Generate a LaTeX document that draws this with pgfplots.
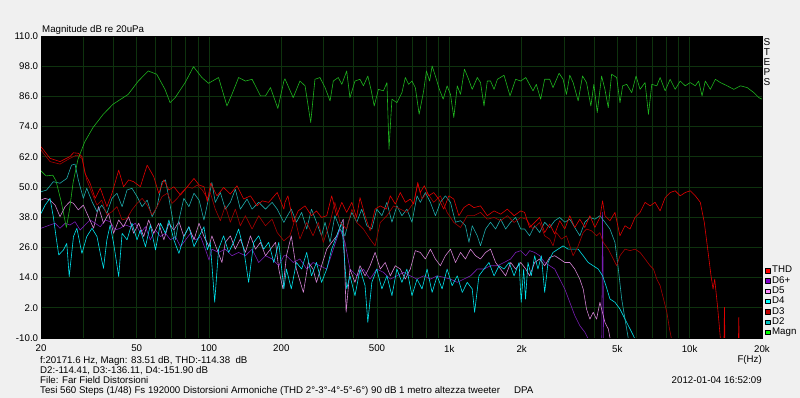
\documentclass[border=0pt]{standalone}
\usepackage{fontspec}
\setmainfont{Liberation Sans}
\usepackage{pgfplots}
\pgfplotsset{compat=1.18}
\definecolor{bg}{RGB}{240,240,240}
\definecolor{gridc}{RGB}{14,50,14}
\definecolor{cMagn}{RGB}{30,180,30}
\definecolor{cTHD}{RGB}{225,0,0}
\definecolor{cDthree}{RGB}{165,0,0}
\definecolor{cDtwo}{RGB}{30,170,170}
\definecolor{cDfour}{RGB}{0,225,235}
\definecolor{cDfive}{RGB}{210,130,210}
\definecolor{cDsix}{RGB}{120,30,180}
\definecolor{lTHD}{RGB}{255,0,0}
\definecolor{lDsix}{RGB}{128,0,200}
\definecolor{lDfive}{RGB}{255,140,255}
\definecolor{lDfour}{RGB}{0,255,255}
\definecolor{lDthree}{RGB}{192,0,0}
\definecolor{lDtwo}{RGB}{0,192,192}
\definecolor{lMagn}{RGB}{0,255,0}
\begin{document}
\begin{tikzpicture}[font=\fontsize{9.7}{11}\selectfont]
\fill[bg] (0,0) rectangle (800pt,398pt);
\useasboundingbox (0,0) rectangle (800pt,398pt);
\begin{axis}[
  at={(41pt,60pt)}, anchor=south west, scale only axis,
  width=721pt, height=302pt,
  xmode=log, xmin=20, xmax=20000, ymin=-10, ymax=110,
  axis background/.style={fill=black},
  axis line style={draw=black},
  xtick={20,50,100,200,500,1000,2000,5000,10000,20000},
  xticklabels={20,50,100,200,500,1k,2k,5k,10k,20k},
  minor xtick={30,40,60,70,80,90,300,400,600,700,800,900,3000,4000,6000,7000,8000,9000},
  ytick={-10,2,14,26,38,50,62,74,86,98,110},
  yticklabels={-10.0,2.0,14.0,26.0,38.0,50.0,62.0,74.0,86.0,98.0,110.0},
  major tick length=0pt, minor tick length=0pt,
  xmajorgrids, xminorgrids, ymajorgrids,
  major grid style={draw=gridc, line width=0.7pt},
  minor grid style={draw=gridc, line width=0.7pt},
  /pgf/number format/assume math mode=true,
  tick label style={font=\fontsize{9.7}{11}\selectfont, inner sep=0pt},
  xticklabel style={anchor=north, yshift=-7pt},
  yticklabel style={anchor=east, xshift=-2.7pt},
  every axis plot/.append style={line width=0.6pt, line join=round},
  legend image code/.code={\fill[#1] (0pt,-2.2pt) rectangle (4.5pt,2.2pt);},
  legend cell align=left,
  legend style={at={(axis description cs:1.0042,0.2399)}, anchor=north west,
    draw=none, fill=none, inner sep=0pt, outer sep=0pt, row sep=0pt, column sep=2pt,
    font=\fontsize{9.7}{11}\selectfont,
    nodes={inner sep=0pt, text height=7.3pt, text depth=3pt}},
]
\addlegendimage{fill=lTHD}\addlegendentry{THD}
\addlegendimage{fill=lDsix}\addlegendentry{D6+}
\addlegendimage{fill=lDfive}\addlegendentry{D5}
\addlegendimage{fill=lDfour}\addlegendentry{D4}
\addlegendimage{fill=lDthree}\addlegendentry{D3}
\addlegendimage{fill=lDtwo}\addlegendentry{D2}
\addlegendimage{fill=lMagn}\addlegendentry{Magn}

% D6+
\addplot[cDsix, forget plot] coordinates {(20,33.6)(20.8,34.2)(21.8,34.9)(22.9,35.6)(24.0,33.6)(25.2,35.6)(26.4,34.9)(27.7,36.2)(29.1,32.9)(30.5,34.9)(32.0,36.9)(33.6,35.6)(35.3,34.2)(37.0,36.9)(38.8,36.2)(40.7,32.9)(42.7,33.6)(44.9,34.9)(47.1,34.2)(49.4,35.6)(51.8,31.6)(54.4,34.2)(57.0,29)(59.9,32.9)(62.8,30.3)(65.9,31.6)(69.1,29)(72.5,30.3)(76.1,26.3)(79.9,29)(83.8,31.6)(87.9,29)(92.3,30.3)(96.8,25)(100.0,21)(102.8,25.3)(109.6,24)(116.9,25.3)(124.6,22.7)(132.8,24)(141.7,22.7)(151.1,25.3)(161.0,20)(171.8,22.7)(183.1,21.4)(195.2,18.7)(204.9,22.7)(210,22.7)(224,20)(239,21.4)(255,17.4)(271,20)(289,18.7)(309,17.4)(329,25.3)(351,33.3)(368,28)(386,17.4)(412,14.7)(439,17.4)(468,13.4)(499,17.4)(532,16.1)(568,13.4)(605,14.7)(645,16.1)(688,14.7)(734,13.4)(782,14.7)(834,13.4)(890,14.7)(948,14.1)(1011,13.4)(1079,12.1)(1149,13.4)(1225,14.7)(1307,17.4)(1394,17.4)(1484,18.7)(1585,18.7)(1689,20)(1800,21.4)(1888,24)(1982,24.7)(2080,22.7)(2158,24.7)(2265,24)(2376,22.7)(2493,20)(2616,18.7)(2745,17.4)(2880,13.4)(3022,9.5)(3171,4.2)(3327,-1.1)(3491,-5.1)(3663,-7.7)(3783,-10.4)(3871,-20)(4302,-20)(4341,40)(4395,-20)};

% D5
\addplot[cDfive, forget plot] coordinates {(20,44.8)(20.8,45.5)(21.8,44.8)(22.9,42.8)(24.0,38.2)(25.2,42.2)(26.4,44.2)(27.3,43.5)(28.6,40.9)(30.0,42.8)(31.5,38.2)(33.1,33.6)(34.7,42.2)(36.4,35.6)(38.2,39.5)(40.1,31.6)(42.1,36.9)(44.1,34.2)(46.3,38.2)(48.6,31.6)(51.0,35.6)(53.5,30.3)(56.1,36.9)(58.9,31.6)(61.8,35.6)(64.9,29)(68.1,35.6)(71.4,32.9)(75.0,36.2)(78.6,30.3)(82.5,34.2)(86.6,29)(90.9,35.6)(95.3,30.3)(100.0,26.3)(102.8,30.6)(107.9,25.3)(113.2,20)(116.9,28)(122.7,30.6)(128.7,25.3)(135.0,29.3)(141.7,24)(148.7,30.6)(156.1,25.3)(163.7,28)(171.8,22.7)(180.2,25.3)(189.2,28)(195.2,17.4)(203,9.5)(210,22.7)(220,30.6)(231,17.4)(247,8.1)(259,20)(271,17.4)(280,12.1)(294,18.7)(309,25.3)(324,28)(340,30.6)(357,35.9)(362,37.2)(372,0.2)(386,17.4)(405,12.1)(425,18.7)(446,14.7)(468,18.7)(491,24)(516,17.4)(541,20)(568,14.7)(596,18.7)(625,17.4)(656,13.4)(688,17.4)(722,24.7)(757,24)(795,21.4)(834,25.3)(875,21.4)(918,18.7)(963,22.7)(1011,25.3)(1061,20)(1113,24)(1167,21.4)(1225,25.3)(1285,22.7)(1348,21.4)(1415,24)(1484,25.3)(1558,20)(1635,17.4)(1715,14.7)(1800,20)(1888,17.4)(1982,20)(2080,17.4)(2158,14.7)(2265,20)(2376,21.4)(2493,18.7)(2616,22)(2745,22.7)(2880,21.4)(3022,20)(3171,20)(3327,17.4)(3491,13.4)(3605,9.5)(3723,1.5)(3844,-2.5)(3969,0.2)(4099,-2.5)(4232,4.2)(4440,-3.8)(4585,-6.4)(4684,-11)(4784,-20)};

% D4
\addplot[cDfour, forget plot] coordinates {(20,39.5)(20.8,42.8)(21.8,45.5)(22.5,38.2)(23.2,29)(23.7,23)(24.8,25)(25.6,27.6)(26.2,14.4)(27.3,30.3)(28.2,33.6)(29.6,23.6)(31.0,30.3)(32.6,33.6)(34.2,30.3)(35.3,23.6)(36.4,17.7)(37.6,29)(38.8,34.9)(40.1,27.6)(42.1,14.4)(43.5,31.6)(45.6,29)(47.8,35.6)(50.2,29)(51.8,32.9)(54.4,26.3)(57.0,34.9)(59.9,25)(62.8,35.6)(65.9,31.6)(68.1,36.9)(71.4,29)(75.0,23.6)(78.6,30.3)(82.5,34.2)(86.6,26.3)(90.9,30.3)(95.3,34.2)(98.4,25)(101.2,28)(105.6,4.2)(109.6,25.3)(115.0,30.6)(120.7,24)(126.6,28)(132.8,33.3)(139.4,25.3)(146.2,12.1)(153.5,28)(161.0,30.6)(168.9,25.3)(177.2,28)(186.0,20)(195.2,28)(204.9,9.5)(210,17.4)(220,9.5)(231,20)(243,17.4)(255,24)(267,14.7)(280,20)(294,12.1)(309,17.4)(324,25.3)(340,30.6)(357,35.9)(374,9.5)(386,14.7)(405,6.8)(425,17.4)(446,10.8)(458,-3.8)(476,12.1)(499,17.4)(524,9.5)(550,14.7)(577,6.8)(605,17.4)(635,12.1)(666,17.4)(699,6.8)(734,13.4)(770,9.5)(808,17.4)(848,8.1)(890,14.7)(933,9.5)(979,17.4)(1027,10.8)(1079,14.7)(1132,8.1)(1187,12.1)(1245,9.5)(1274,0.2)(1328,14.7)(1394,17.4)(1462,20)(1535,14.7)(1610,18.7)(1689,17.4)(1773,20)(1860,14.7)(1951,20)(1991,4.2)(2038,17.4)(2075,5.5)(2124,20)(2193,14.7)(2265,22.7)(2338,17.4)(2415,22.7)(2493,8.1)(2574,20)(2701,24)(2834,25.3)(2974,26.6)(3120,25.3)(3274,25.3)(3436,25.3)(3605,22.7)(3783,20)(3969,18.7)(4165,17.4)(4341,14.7)(4484,10.8)(4659,5.5)(4888,4.2)(5129,1.5)(5382,-2.5)(5647,-6.4)(5925,-10.4)(6023,-20)};

% D2
\addplot[cDtwo, forget plot] coordinates {(20,48.1)(21.1,48.8)(22.5,52.1)(24.0,51.5)(25.6,53.4)(26.8,58.7)(27.7,59.1)(28.6,52.8)(30.0,45.5)(31.0,49.5)(32.6,44.2)(34.2,40.2)(35.8,42.8)(37.6,39.5)(39.5,45.5)(41.4,47.5)(43.5,42.2)(45.6,48.8)(47.8,49.5)(50.2,46.2)(52.7,42.2)(55.3,44.8)(58.0,38.2)(60.8,42.2)(63.8,52.1)(65.9,52.8)(68.1,45.5)(70.3,38.2)(72.5,29)(75.0,36.9)(78.6,45.5)(82.5,42.2)(86.6,47.5)(90.9,44.8)(95.3,36.9)(100.0,46.2)(102.8,51.8)(106.2,43.9)(111.5,47.8)(116.9,41.2)(122.7,43.9)(128.7,49.1)(135.0,41.2)(144.0,45.2)(151.1,41.2)(161.0,43.9)(171.8,41.2)(183.1,43.9)(192.2,41.2)(204.9,35.9)(210,37.9)(220,41.2)(231,36)(243,39.9)(255,33.3)(267,41.2)(280,36)(294,30.6)(304,36)(319,28)(334,38.6)(351,33.3)(368,30.6)(380,36)(393,39.9)(412,36)(432,41.2)(454,34.6)(476,33.3)(499,41.2)(524,38.6)(550,43.9)(577,36)(605,42.5)(635,38.6)(666,41.2)(699,36)(734,46.5)(757,43.9)(795,47.8)(834,43.9)(875,38.6)(918,43.9)(963,46.5)(1011,43.9)(1061,36)(1113,36.6)(1167,34.6)(1207,28)(1245,34.6)(1307,30.6)(1348,26.7)(1415,33.3)(1484,36)(1558,33.3)(1635,37.2)(1715,33.3)(1800,36)(1888,37.9)(1982,33.3)(2057,33.3)(2158,30.6)(2265,34.6)(2376,31.9)(2493,36)(2616,33.9)(2745,36.6)(2880,37.9)(3022,36)(3171,37.2)(3327,33.9)(3491,30.6)(3663,36)(3844,37.9)(4033,37.2)(4232,38.6)(4440,36)(4659,33.3)(4888,28)(5049,17.4)(5214,5.5)(5382,-2.5)(5559,-10.4)(5647,-20)};

% D3
\addplot[cDthree, forget plot] coordinates {(20,64.7)(21.8,60.1)(24.0,59.1)(26.4,61.4)(28.2,62.7)(29.6,61.4)(31.0,52.8)(32.6,47.5)(34.2,42.8)(35.8,44.8)(37.6,38.9)(39.5,40.2)(41.4,42.2)(43.5,36.9)(45.6,37.5)(47.8,40.9)(50.2,43.5)(52.7,45.5)(55.3,42.8)(58.0,38.9)(60.8,42.2)(63.8,46.2)(67.0,47.5)(70.3,43.5)(73.8,45.5)(77.4,48.1)(81.2,50.1)(85.2,49.5)(89.4,50.8)(93.8,48.8)(98.4,45.5)(101.2,47.8)(106.2,41.2)(111.5,36.6)(116.9,42.5)(122.7,36)(128.7,41.2)(135.0,34.6)(141.7,38.6)(151.1,33.3)(161.0,38.6)(171.8,34.6)(183.1,37.2)(192.2,31.9)(204.9,28.6)(217,30.6)(228,37.2)(239,29.3)(255,35.9)(271,30.6)(285,35.9)(299,28)(319,35.9)(334,43.9)(351,35.9)(374,33.3)(393,41.2)(412,35.9)(439,33.3)(468,29.3)(491,26.6)(516,35.9)(550,38.6)(586,42.5)(625,41.2)(666,39.9)(711,43.9)(739,51.1)(770,45.2)(808,47.8)(861,43.9)(918,46.5)(979,39.9)(1044,35.9)(1113,33.9)(1187,38.6)(1266,38.6)(1348,39.9)(1439,37.2)(1535,37.9)(1635,36.6)(1744,38.6)(1860,35.9)(1982,37.9)(2089,37.2)(2229,33.3)(2376,35.9)(2493,30.6)(2616,29.3)(2701,26.6)(2789,31.9)(2926,29.3)(3071,30.6)(3274,22.7)(3436,26.6)(3605,31.9)(3723,33.3)(3906,32.6)(4099,30.6)(4232,31.9)(4370,28)(4585,25.3)(4812,21.4)(4969,18.7)(5129,22.7)(5382,25.3)(5647,24.7)(5925,25.3)(6217,24)(6523,21.4)(6844,18.7)(7069,17.4)(7301,13.4)(7535,10.8)(7785,5.5)(8038,0.2)(8242,-6.4)(8435,-11.1)(8571,-20)};

% THD
\addplot[cTHD, forget plot] coordinates {(20,66)(21.8,61.4)(24.0,60.1)(26.4,62.1)(27.3,63.6)(28.6,63.4)(29.6,62.1)(30.5,55.4)(32.0,51.5)(33.6,45.5)(35.3,49.5)(37.6,42.2)(39.5,47.5)(42.1,56.7)(44.1,50.1)(46.3,52.8)(48.6,52.1)(51.8,50.1)(55.3,58.7)(58.9,54.1)(61.8,47.5)(64.9,52.8)(68.1,48.8)(71.4,50.1)(76.1,46.8)(81.2,50.1)(86.6,53.4)(90.9,50.8)(95.3,50.1)(98.4,44.2)(101.6,51.5)(107.9,46.5)(115,49.8)(122.7,47.2)(130.8,50.5)(139.4,45.2)(148.7,46.5)(158.5,42.5)(166.4,44.5)(177.2,43.9)(192.2,47.8)(204.9,41.2)(207,43.9)(213,46.5)(224,36)(235,40.5)(251,42.5)(267,38.6)(280,40.5)(294,37.9)(309,38.6)(324,46.5)(340,38.6)(357,43.9)(374,39.9)(393,43.9)(411,37.9)(425,45.8)(446,38.6)(468,32.6)(491,41.2)(516,42.5)(547,41.2)(568,46.5)(596,43.2)(625,47.8)(656,43.9)(688,45.2)(711,43.2)(739,51.8)(757,47.8)(787,50.5)(821,46.5)(861,47.8)(904,45.2)(948,41.2)(995,46.5)(1044,45.2)(1096,38.6)(1149,41.8)(1207,43.2)(1266,41.8)(1348,42.5)(1439,38.6)(1535,40.5)(1635,39.2)(1744,41.2)(1860,38.6)(1982,40.5)(2057,39.9)(2158,33.9)(2265,35.9)(2376,37.9)(2493,31.9)(2616,35.3)(2745,31.3)(2880,36.6)(3022,33.3)(3171,38.6)(3327,33.9)(3491,37.2)(3663,33.9)(3844,38.6)(4033,33.9)(4232,37.9)(4341,44.5)(4440,38.6)(4659,36.6)(4888,39.9)(5129,30.6)(5382,34.6)(5647,33.3)(5925,37.9)(6217,39.9)(6523,43.9)(6844,42.5)(7181,43.9)(7535,40.5)(7907,45.8)(8296,47.8)(8704,48.5)(9134,46.5)(9583,47.8)(10055,48.5)(10555,46.5)(11074,43.9)(11505,35.9)(11887,25.3)(12270,14.7)(12515,9.4)(12711,13.4)(13093,1.5)(13416,-10)(13550,-20)(13850,-20)(13955,2.2)(14060,-20)(15900,-20)(16013,-1.8)(16130,-20)(20000,-20)};

% Magn
\addplot[cMagn, forget plot] coordinates {(20,56.4)(21.0,54.4)(22.4,54.7)(23.1,52.4)(24.3,43.9)(25.5,33.9)(26.3,41.2)(27.2,51.8)(28.5,61)(30.4,67.9)(32.9,73.6)(36.3,78.9)(39.9,82.9)(46.1,86.8)(50.8,92.1)(55.9,96.1)(60.6,94.8)(65.6,88.8)(68.9,83.5)(72.3,85.5)(79.6,91.5)(86.2,97.8)(93.4,93.5)(99.5,91.2)(109.6,93.5)(118.8,82.2)(125.4,87.5)(132.8,93.5)(141.7,92.1)(151.1,92.8)(163.7,86.2)(171.8,86.2)(180.2,89.5)(193.4,81.2)(204.9,92.1)(207,93)(224,85.5)(239,92.1)(251,90.2)(265,75.6)(276,92.8)(289.5,93.5)(304,89.5)(319,84.2)(329,92.1)(345,93.5)(357,90.8)(374,96.1)(386,85.5)(405,92.1)(425,92.8)(439,90.2)(458,94.1)(472,88.8)(487,82.2)(507,88.8)(532,88.2)(550,91.5)(561,65)(577,84.9)(605,83.5)(635,87.5)(656,93.5)(677,90.8)(699,92.1)(722,89.5)(749,78.9)(782,88.2)(803,96.1)(828,92.1)(848,98.1)(875,94.1)(909,88.8)(943,84.9)(979,90.2)(1011,86.8)(1044,77.6)(1079,90.2)(1113,86.8)(1156,96.8)(1195,93.5)(1245,88.8)(1307,93.5)(1348,91.5)(1394,82.2)(1439,92.1)(1484,92.1)(1535,88.8)(1585,92.8)(1689,94.4)(1789,86.2)(1888,92.8)(1982,92.1)(2080,93.5)(2229,88.2)(2301,90.8)(2399,84.9)(2493,92.8)(2616,92.8)(2701,89.5)(2862,95.2)(2974,92.8)(3071,86.8)(3171,94.4)(3274,91.5)(3436,84.2)(3583,94.1)(3723,91.5)(3881,82.2)(3994,90.8)(4126,79.6)(4301,94.1)(4440,88.8)(4585,81.5)(4734,94.8)(4969,93.5)(5129,83.5)(5263,90.2)(5470,90.8)(5740,87.5)(5984,94.1)(6217,88.8)(6523,91.5)(6738,78.9)(6958,90.8)(7301,90.2)(7535,93.5)(7907,88.2)(8296,92.8)(8704,88.8)(9134,92.1)(9583,90.2)(10055,91.5)(10555,90.2)(10898,92.1)(11260,86.2)(11613,92.1)(12191,88.8)(12789,92.8)(13416,91.5)(14318,90.2)(15268,88.8)(16268,90.2)(17356,89.5)(18502,87.5)(19414,85.5)(20000,84.9)};
\end{axis}
\node[anchor=base west, inner sep=0pt] at (42pt,365.7pt) {Magnitude dB re 20uPa};
\node[anchor=north, inner sep=0pt, align=center, font=\fontsize{10}{9.9}\selectfont] at (767pt,359.7pt) {S\\T\\E\\P\\S};
\node[anchor=base east, inner sep=0pt] at (762pt,35.5pt) {F(Hz)};
\node[anchor=base west, inner sep=0pt] at (40pt,34.5pt) {f:20171.6 Hz, Magn: 83.51 dB, THD:-114.38\ \ dB};
\node[anchor=base west, inner sep=0pt] at (40pt,24.5pt) {D2:-114.41, D3:-136.11, D4:-151.90 dB};
\node[anchor=base west, inner sep=0pt] at (40pt,14.5pt) {File: Far Field Distorsioni};
\node[anchor=base west, inner sep=0pt] at (40pt,4pt) {Tesi 560 Steps (1/48) Fs 192000 Distorsioni Armoniche (THD 2°-3°-4°-5°-6°) 90 dB 1 metro altezza tweeter\hspace{14pt}DPA};
\node[anchor=base east, inner sep=0pt] at (762pt,14.5pt) {2012-01-04 16:52:09};
\end{tikzpicture}
\end{document}
